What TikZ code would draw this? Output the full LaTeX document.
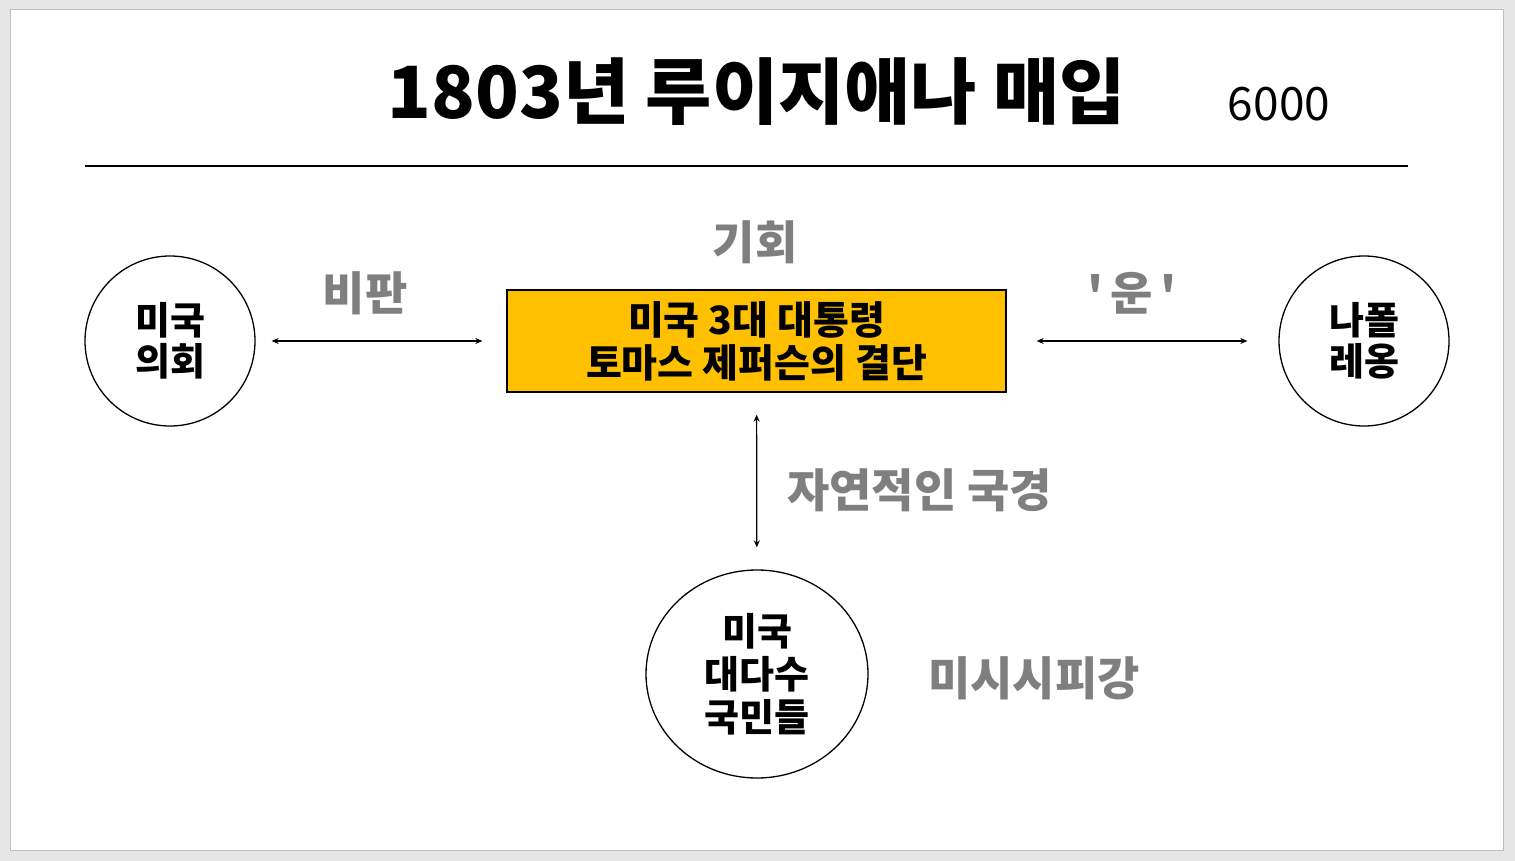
\documentclass[tikz,border=0pt]{standalone}
\usepackage{fontspec}
\newfontfamily\kr{Noto Sans CJK KR}
\usetikzlibrary{arrows.meta,shapes.geometric}
\definecolor{slidegray}{HTML}{E6E6E6}
\definecolor{txtgray}{HTML}{7F7F7F}
\definecolor{boxyellow}{HTML}{FFC000}
\tikzset{
  bigcirc/.style={draw=black, line width=1.3pt, circle, minimum size=170pt, inner sep=0pt, align=center, font=\kr\bfseries\fontsize{38}{41}\selectfont},
  graylabel/.style={text=txtgray, font=\kr\bfseries\fontsize{46}{50}\selectfont, inner sep=0pt},
  conn/.style={line width=1.2pt, {Stealth[length=7pt,width=6pt]}-{Stealth[length=7pt,width=6pt]}},
}
\begin{document}
\begin{tikzpicture}[x=1pt,y=-1pt]
\fill[slidegray] (0,0) rectangle (1515,861);
\draw[fill=white, draw=black!25, line width=1pt] (10,10) rectangle (1503,850);
\useasboundingbox (0,0) rectangle (1515,861);

\node[inner sep=0pt, font=\kr\bfseries\fontsize{72}{76}\selectfont] (title) at (757,92) {1803년 루이지애나 매입};
\node[inner sep=0pt, font=\kr\fontsize{46}{50}\selectfont] (num) at (1279,104) {6000};
\coordinate (ruleL) at (85,166);
\coordinate (ruleR) at (1408,166);
\draw[line width=2pt] (ruleL) -- (ruleR);

\node[bigcirc] (congress) at (170,341) {미국\\의회};
\node[bigcirc] (napoleon) at (1364,341) {나폴\\레옹};
\node[draw=black, line width=1.3pt, fill=boxyellow, minimum width=499pt, minimum height=102pt, align=center, font=\kr\bfseries\fontsize{39}{43}\selectfont] (box) at (756.5,341) {미국 3대 대통령\\토마스 제퍼슨의 결단};
\node[draw=black, line width=1.3pt, ellipse, minimum width=222pt, minimum height=208pt, inner sep=0pt, align=center, font=\kr\bfseries\fontsize{38}{43}\selectfont] (people) at (757,674) {미국\\대다수\\국민들};

\node[graylabel] (chance) at (755,242) {기회};
\node[graylabel] (critic) at (365,293) {비판};
\node[graylabel] (luck) at (1132,293) {'\,운\,'};
\node[graylabel, anchor=west] (border) at (787,490) {자연적인 국경};
\node[graylabel, anchor=west] (river) at (928,678) {미시시피강};

\draw[conn, shorten <=16pt, shorten >=24pt] (congress) -- (box);
\draw[conn, shorten <=30pt, shorten >=31pt] (box) -- (napoleon);
\draw[conn, shorten <=22pt, shorten >=22pt] (box) -- (people);
\end{tikzpicture}
\end{document}
